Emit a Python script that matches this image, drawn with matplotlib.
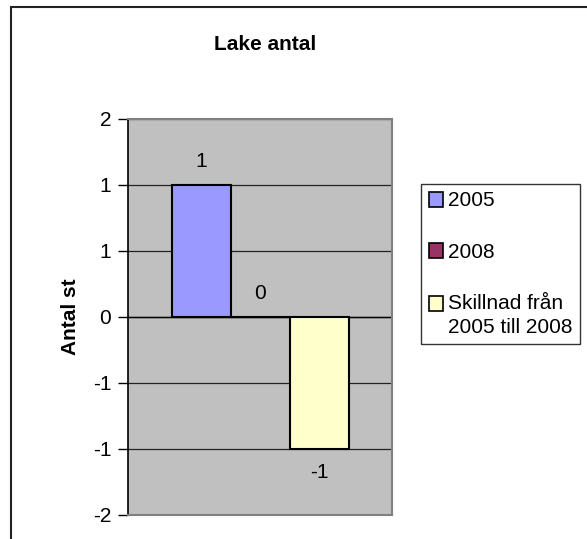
import matplotlib
matplotlib.use("Agg")
import matplotlib.pyplot as plt
from matplotlib.patches import Rectangle, Patch

plt.rcParams['font.family'] = ['Liberation Sans', 'DejaVu Sans']

# Data
series = ["2005", "2008", "Skillnad från\n2005 till 2008"]
values = [1, 0, -1]
colors = ["#9999FF", "#993366", "#FFFFCC"]
tick_values = [-1.5, -1.0, -0.5, 0.0, 0.5, 1.0, 1.5]
tick_labels = ["-2", "-1", "-1", "0", "1", "1", "2"]
title = "Lake antal"
ylabel = "Antal st"

FS = 15
W, H = 587, 539
fig = plt.figure(figsize=(W / 100, H / 100), dpi=100)

# outer chart border
fig.patches.append(Rectangle((11 / W, -0.05), 1.2, 1 - 6.5 / H + 0.05,
                             transform=fig.transFigure, fill=False,
                             edgecolor="#222222", linewidth=1.5, zorder=0))

px_l, px_r, px_t, px_b = 128, 392, 119, 515
ax = fig.add_axes([px_l / W, (H - px_b) / H, (px_r - px_l) / W, (px_b - px_t) / H])
ax.set_facecolor("#C0C0C0")

bw = 59 / (px_r - px_l)
offsets = [-bw, 0, bw]
for i, (lab, v, c) in enumerate(zip(series, values, colors)):
    bars = ax.bar(offsets[i], v, width=bw, color=c, edgecolor="black",
                  linewidth=1.5, zorder=3, label=lab)
    ax.bar_label(bars, labels=["%g" % v], padding=10, fontsize=FS, zorder=4)

ax.set_xlim(-0.5, 0.5)
ax.set_ylim(-1.5, 1.5)
ax.set_yticks(tick_values)
ax.set_yticklabels(tick_labels, fontsize=FS)
ax.set_xticks([])
ax.yaxis.grid(True, color="#222222", linewidth=0.9, zorder=1)
ax.set_axisbelow(True)
ax.axhline(0, color="black", linewidth=1.0, zorder=2)
ax.tick_params(axis="y", direction="out", length=7, width=1, color="black", pad=5)

for s in ["top", "bottom", "right"]:
    ax.spines[s].set_color("#808080")
    ax.spines[s].set_linewidth(1.5)
ax.spines["left"].set_color("black")
ax.spines["left"].set_linewidth(1.2)

fig.text(265 / W, 1 - 45 / H, title, ha="center", va="center",
         fontsize=FS, fontweight="bold")
fig.text(70 / W, 1 - 317 / H, ylabel, ha="center", va="center",
         rotation=90, fontsize=FS, fontweight="bold")

handles = [Patch(facecolor=c, edgecolor="black", linewidth=1.2) for c in colors]
leg = fig.legend(handles, series, loc="upper left",
                 bbox_to_anchor=(421 / W, 1 - 184 / H), borderaxespad=0,
                 fontsize=FS, frameon=True, fancybox=False, edgecolor="black",
                 handlelength=0.7, handleheight=0.7, handletextpad=0.25,
                 labelspacing=1.55, borderpad=0.36)
leg.get_frame().set_linewidth(1.0)
for t in leg.get_texts():
    t.set_linespacing(1.3)
# align the last handle with the first line of its two-line label
h3 = leg.legend_handles[2]
h3.set_y(h3.get_y() + 0.58 * FS)

fig.savefig("out.png", dpi=100)
